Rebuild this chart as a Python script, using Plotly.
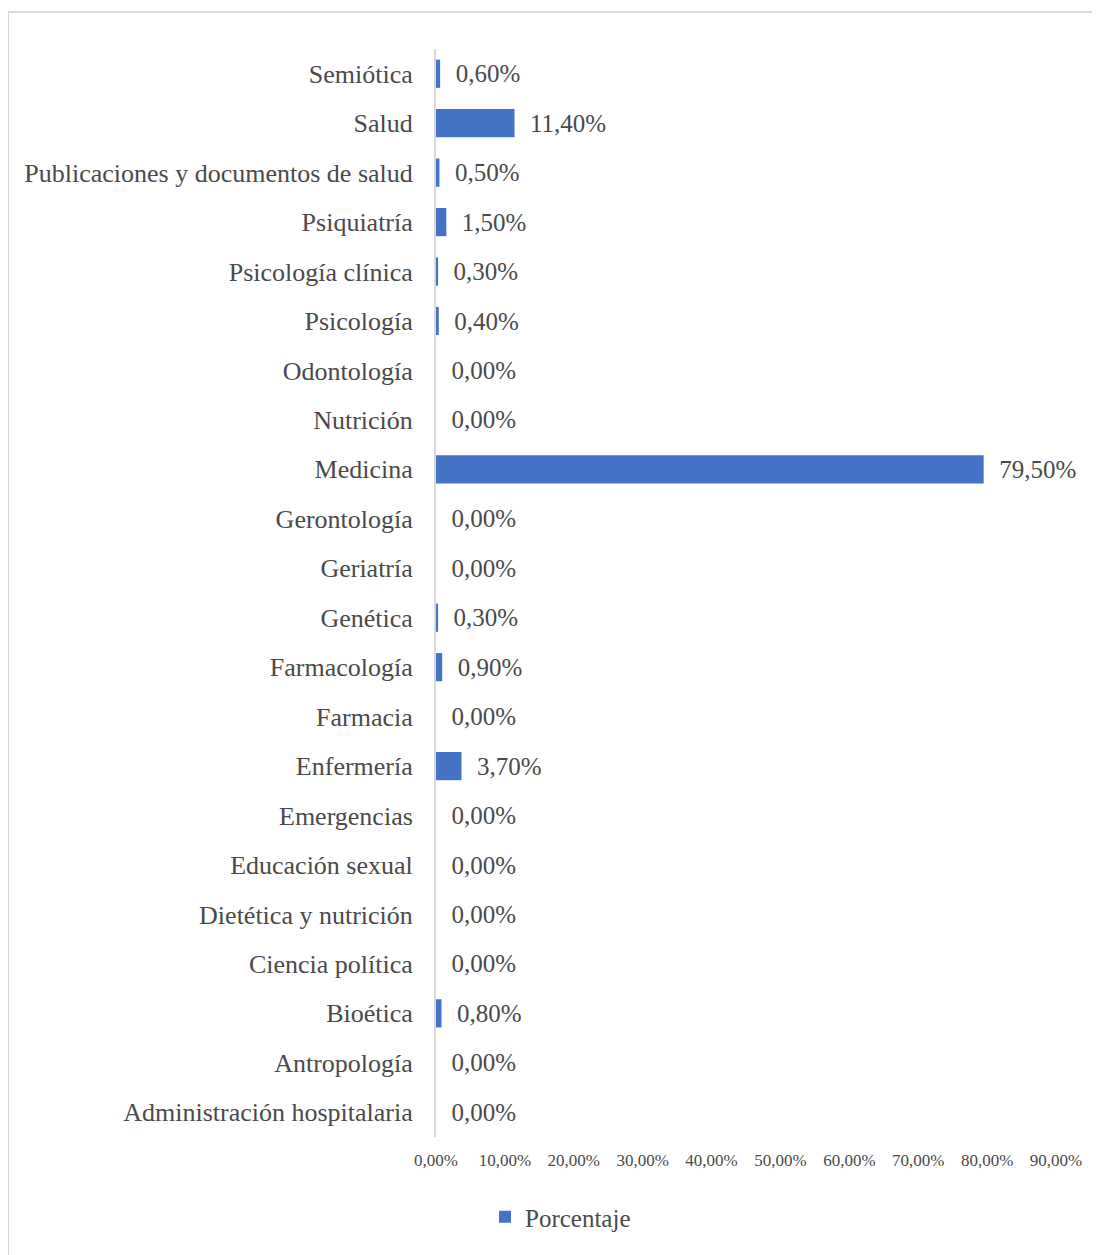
import plotly.graph_objects as go

categories = [
    "Semiótica", "Salud", "Publicaciones y documentos de salud", "Psiquiatría",
    "Psicología clínica", "Psicología", "Odontología", "Nutrición", "Medicina",
    "Gerontología", "Geriatría", "Genética", "Farmacología", "Farmacia",
    "Enfermería", "Emergencias", "Educación sexual", "Dietética y nutrición",
    "Ciencia política", "Bioética", "Antropología", "Administración hospitalaria",
]
values = [0.6, 11.4, 0.5, 1.5, 0.3, 0.4, 0.0, 0.0, 79.5, 0.0, 0.0, 0.3, 0.9, 0.0,
          3.7, 0.0, 0.0, 0.0, 0.0, 0.8, 0.0, 0.0]
series_name = "Porcentaje"
tick_values = [0, 10, 20, 30, 40, 50, 60, 70, 80, 90]
tick_text = [f"{v:.2f}%".replace(".", ",") for v in tick_values]

FONT = "Liberation Serif, Times New Roman, serif"
TXT = "#4a4a4a"

L, R, T, B = 428, 52, 41, 126
W, H = 1100, 1255
PW, PH = W - L - R, H - T - B

fig = go.Figure()
fig.add_trace(go.Bar(
    y=categories, x=values, orientation="h", name=series_name,
    marker=dict(color="#4472C4", line=dict(width=0)),
    texttemplate="  %{x:.2f}%", textposition="outside",
    textfont=dict(family=FONT, size=25, color=TXT),
    cliponaxis=False, showlegend=True,
))

fig.update_layout(
    width=W, height=H,
    paper_bgcolor="white", plot_bgcolor="white",
    separators=",.",
    margin=dict(l=L, r=R, t=T, b=B, autoexpand=False),
    bargap=0.43,
    font=dict(family=FONT, color=TXT),
    xaxis=dict(range=[0, 90], tickmode="array", tickvals=tick_values, ticktext=tick_text,
               showgrid=False, zeroline=False, showline=False,
               tickfont=dict(family=FONT, size=17, color=TXT),
               ticks="", ticklabelstandoff=11, fixedrange=True),
    yaxis=dict(autorange="reversed", showgrid=False, zeroline=False,
               showline=True, linecolor="#D9D9D9", linewidth=2,
               tickfont=dict(family=FONT, size=26, color=TXT),
               ticks="", ticklabelstandoff=16),
    legend=dict(orientation="h", x=0.079, xanchor="left", y=-80 / PH, yanchor="middle",
                font=dict(family=FONT, size=25, color=TXT),
                itemwidth=30, bgcolor="rgba(0,0,0,0)"),
    shapes=[dict(type="rect", xref="paper", yref="paper",
                 x0=-L / PW, x1=1.2, y0=-0.3, y1=1 + (T - 4) / PH,
                 line=dict(color="#D9D9D9", width=2), fillcolor="rgba(0,0,0,0)", layer="below")],
)

fig.write_html("out.html")
